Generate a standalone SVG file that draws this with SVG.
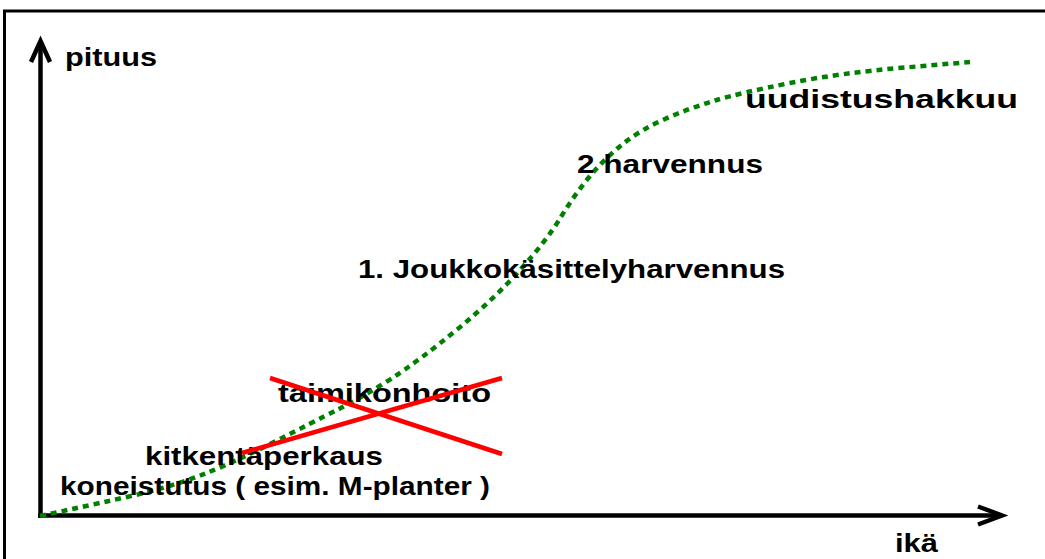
<svg xmlns="http://www.w3.org/2000/svg" width="1045" height="559" viewBox="0 0 1045 559">
<style>
.t{font-family:"Liberation Sans",Arial,sans-serif;font-weight:bold;font-size:26px;fill:#000}
.ax{stroke:#000;stroke-width:4.5;fill:none}
.frame{stroke:#000;stroke-width:3;fill:none}
.curve{stroke:#008000;stroke-width:4.5;fill:none;stroke-dasharray:6 5}
.cross{stroke:#ff0000;stroke-width:4.5;fill:none}
</style>
<rect width="1045" height="559" fill="#fff"/>
<g id="frame">
<polyline class="frame" points="4.5,559 4.5,11 1045,11"/>
</g>
<g id="axes">
<line class="ax" x1="40.5" y1="518" x2="40.5" y2="42"/>
<polyline class="ax" points="31,62 40.5,41 50,62"/>
<line class="ax" x1="38" y1="515.5" x2="1001" y2="515.5"/>
<polyline class="ax" points="978,506.5 1002,515.5 978,524.5"/>
</g>
<g id="curve">
<path class="curve" d="M40,516 L70,509.5 Q100,503 133.5,495.5 Q167,488 200,475.5 Q233,463 273,442.5 Q313,422 338,409.5 Q363,397 391.5,378.5 Q420,360 456.5,330 Q493,300 520,270 Q547,240 560,218.5 Q573,197 588,178.5 Q603,160 621.5,145 Q640,130 665,119 Q690,108 715,100.5 Q740,93 790,83 Q840,73 905,67.5 L970,62"/>
</g>
<g id="labels">
<text id="pituus" class="t" x="65" y="66" textLength="92" lengthAdjust="spacingAndGlyphs">pituus</text>
<text id="ika" class="t" x="895" y="552" textLength="43" lengthAdjust="spacingAndGlyphs">ikä</text>
<text id="uudistushakkuu" class="t" x="745" y="108" textLength="273" lengthAdjust="spacingAndGlyphs">uudistushakkuu</text>
<text id="harvennus2" class="t" x="577" y="173" textLength="186" lengthAdjust="spacingAndGlyphs">2 harvennus</text>
<text id="harvennus1" class="t" x="358" y="278" textLength="427" lengthAdjust="spacingAndGlyphs">1. Joukkokäsittelyharvennus</text>
<text id="taimikonhoito" class="t" x="278" y="402" textLength="213" lengthAdjust="spacingAndGlyphs">taimikonhoito</text>
<text id="kitkenta" class="t" x="145" y="465" textLength="238" lengthAdjust="spacingAndGlyphs">kitkentäperkaus</text>
<text id="koneistutus" class="t" x="60" y="495" textLength="430" lengthAdjust="spacingAndGlyphs">koneistutus ( esim. M-planter )</text>
</g>
<g id="cross">
<line class="cross" x1="270" y1="378" x2="502" y2="454"/>
<line class="cross" x1="242" y1="453" x2="502" y2="378"/>
</g>
</svg>
